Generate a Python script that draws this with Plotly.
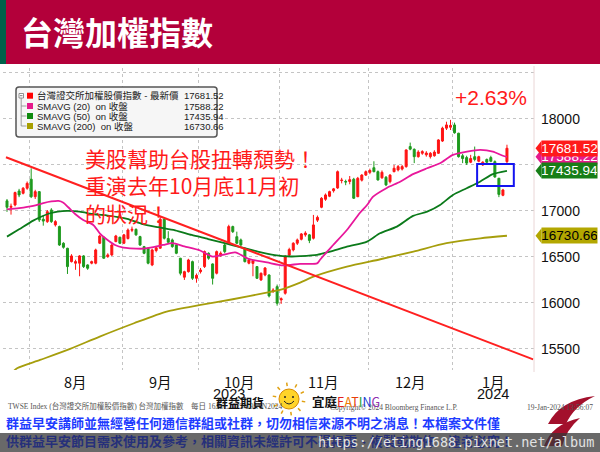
import math
import pandas as pd
import plotly.graph_objects as go

# ---------------- data ----------------
opens = [17110,17040,17065,17217,17192,17247,17345,17155,17210,16910,16884,17011,16848,16830,16649,16594,16449,16432,16432,16511,
         16413,16432,16432,16649,16714,16504,16522,16667,16714,16649,16700,16790,16800,16721,16612,16594,16413,16570,16595,16910,
         16700,16685,16630,16486,16280,16340,16449,16268,16340,16395,16540,16424,16323,16520,16630,16649,16830,16720,16685,16594,
         16432,16430,16395,16250,16304,16304,16123,16177,16033,16105,16520,16576,16649,16692,16740,16740,16703,16900,17040,17127,
         17160,17220,17250,17330,17320,17320,17345,17155,17335,17390,17420,17470,17427,17360,17366,17318,17427,17446,17455,17482,
         17700,17670,17590,17627,17610,17590,17600,17627,17760,17900,17910,17935,17845,17600,17580,17530,17590,17540,17500,17560,
         17580,17536,17355,17170,17536]
highs = [17130,17080,17210,17240,17260,17320,17464,17230,17215,16950,17010,17030,16900,16840,16660,16600,16530,16470,16520,16520,
         16420,16460,16590,16740,16720,16540,16640,16740,16720,16750,16810,16830,16810,16730,16620,16600,16590,16620,16938,16920,
         16780,16700,16640,16490,16350,16480,16460,16320,16380,16570,16550,16430,16570,16560,16650,16850,16840,16775,16700,16600,
         16480,16470,16400,16330,16390,16310,16160,16200,16060,16520,16600,16660,16700,16760,16780,16750,16957,16950,17150,17190,
         17220,17250,17440,17360,17340,17380,17360,17370,17400,17440,17460,17540,17440,17440,17380,17400,17500,17500,17500,17670,
         17743,17680,17660,17660,17650,17640,17660,17780,17916,17970,17990,17960,17850,17620,17600,17610,17700,17600,17540,17570,
         17600,17550,17360,17240,17720]
lows = [16990,16960,17050,17150,17180,17230,17140,17130,16880,16840,16870,16870,16830,16620,16590,16315,16440,16360,16290,16380,
        16360,16420,16420,16640,16480,16490,16510,16660,16640,16640,16690,16770,16730,16620,16530,16420,16400,16550,16590,16690,
        16650,16600,16530,16300,16250,16330,16250,16220,16320,16380,16470,16200,16310,16500,16540,16640,16760,16640,16620,16440,
        16420,16290,16260,16240,16290,16060,16110,15970,15990,16090,16500,16560,16630,16680,16720,16650,16690,16880,17030,17110,
        17150,17200,17240,17300,17280,17290,17130,17150,17320,17380,17400,17420,17330,17350,17270,17300,17420,17430,17440,17470,
        17660,17520,17580,17610,17590,17570,17590,17620,17750,17880,17880,17840,17580,17520,17500,17520,17540,17530,17490,17520,
        17530,17360,17150,17160,17500]
closes = [17040,17050,17200,17174,17247,17300,17155,17210,16902,16890,16992,16884,16884,16630,16605,16395,16511,16449,16511,16395,
          16377,16449,16576,16728,16486,16522,16630,16728,16649,16740,16793,16800,16740,16630,16540,16432,16576,16600,16910,16703,
          16660,16612,16540,16323,16340,16467,16268,16300,16358,16558,16486,16268,16558,16540,16558,16830,16775,16649,16630,16449,
          16467,16460,16268,16323,16380,16076,16141,15997,16045,16504,16580,16649,16685,16750,16760,16680,16848,16930,17138,17174,
          17210,17240,17427,17335,17315,17340,17138,17355,17390,17427,17440,17427,17337,17420,17283,17390,17464,17482,17482,17663,
          17672,17590,17640,17645,17630,17627,17640,17772,17900,17935,17930,17850,17590,17570,17520,17570,17560,17590,17530,17530,
          17540,17370,17180,17228,17681.52]

# moving averages (index position, value)
sma20_x = [0,3,6.5,9,11,12.8,14,15.2,16.9,18.9,21.4,23,24.7,26.8,28.9,30.5,33.8,38.7,41,44,47.9,51,53.5,56.6,59.9,64.5,68.5,
           72.7,76.9,77.6,79.4,80.9,84.3,87.5,89.3,90.8,94.2,97.5,100.7,104.2,107.4,110.6,114.1,117.4,120.5,123,124]
sma20_y = [17018,17030,17054,17085,17103,17109,17090,17040,16967,16902,16848,16757,16692,16630,16601,16594,16590,16630,16650,
           16615,16570,16504,16522,16550,16480,16440,16408,16425,16430,16467,16558,16630,16793,16978,17065,17155,17250,17318,
           17400,17464,17518,17609,17645,17663,17645,17600,17588.22]
sma50_x = [0,3,6.5,10.7,14.9,18,21.6,25,29.8,33.4,37.5,41.7,45.8,49.9,54,58.1,62.2,66.4,70.5,72.7,76.9,80.1,84.3,89.3,92.5,
           96.7,100.7,104.2,107.4,110.6,114,117.3,120.5,124]
sma50_y = [16721,16800,16895,16975,17000,16992,16964,16950,16915,16860,16823,16790,16739,16695,16649,16605,16558,16520,16505,
           16508,16522,16558,16612,16667,16757,16830,16946,16992,17065,17174,17247,17318,17400,17435.94]
sma200_x = [1,2.5,8.2,15,23,31.5,39.6,48,56,64.4,67.7,72.7,76,84.3,92.6,100.8,109,117.4,124]
sma200_y = [15230,15290,15380,15489,15634,15779,15906,15978,16040,16112,16141,16221,16286,16395,16475,16558,16649,16703,16730.66]

trend_x = [-0.25, 130.5]
trend_y = [17584, 15386]
box_x = [116.6, 125.7]
box_y = [17272, 17511]

legend_names = ["台灣證交所加權股價指數 - 最新價", "SMAVG (20)\u00a0\u00a0on 收盤",
                "SMAVG (50)\u00a0\u00a0on 收盤", "SMAVG (200)\u00a0\u00a0on 收盤"]
legend_values = [17681.52, 17588.22, 17435.94, 16730.66]
y_ticks = [15500, 16000, 16500, 17000, 17500, 18000, 18500]
y_ticktext = ["15500", "16000", "16500", "17000", "", "18000", ""]
month_names = ["8月", "9月", "10月", "11月", "12月", "1月"]

holidays = pd.to_datetime(["2023-09-04", "2023-09-29", "2023-10-09", "2023-10-10", "2024-01-01"])
dates = pd.bdate_range("2023-07-24", "2024-01-19")
dates = dates[~dates.isin(holidays)]
n = len(closes)
assert len(dates) == n
xi = list(range(n))

# ---------------- geometry ----------------
FW, FH = 600, 452
ML, MR, MT, MB = 3, 66, 68, 82
PW, PH = FW - ML - MR, FH - MT - MB
XMIN = -0.99
XMAX = XMIN + PW / 4.032
YMIN, YMAX = 15271, 18554
DV = (YMAX - YMIN) / PH  # value per pixel


def px(x):
    return (x - ML) / PW


def py(y):
    return (FH - MB - y) / PH


# month boundaries
first_idx = []
for k in range(1, n):
    if dates[k].month != dates[k - 1].month:
        first_idx.append(k)
grid_x = [k - 0.4 for k in first_idx]
label_x = [(grid_x[j] + (grid_x[j + 1] if j + 1 < len(grid_x) else XMAX)) / 2 for j in range(len(grid_x))]

RED = "#FF1414"
GREEN = "#1E9A1E"
MAG = "#E8179B"
DGREEN = "#0B7A1A"
OLIVE = "#A69E0C"

fig = go.Figure()
fig.add_trace(go.Candlestick(
    x=xi, open=opens, high=highs, low=lows, close=closes,
    increasing=dict(line=dict(color=RED, width=1), fillcolor=RED),
    decreasing=dict(line=dict(color=GREEN, width=1), fillcolor=GREEN),
    whiskerwidth=0, showlegend=False, hoverinfo="skip"))
for xs, ys, c in [(sma200_x, sma200_y, OLIVE), (sma50_x, sma50_y, DGREEN), (sma20_x, sma20_y, MAG)]:
    fig.add_trace(go.Scatter(x=xs, y=ys, mode="lines", line=dict(color=c, width=1.8, shape="spline", smoothing=0.7),
                             showlegend=False, hoverinfo="skip"))
fig.add_trace(go.Scatter(x=trend_x, y=trend_y, mode="lines", line=dict(color="#FF2020", width=2),
                         showlegend=False, hoverinfo="skip"))

shapes = []
anns = []
# header
shapes.append(dict(type="rect", xref="paper", yref="paper", x0=px(0), x1=px(600), y0=py(64), y1=py(0),
                   fillcolor="#B3003A", line=dict(width=0), layer="below"))
shapes.append(dict(type="rect", xref="paper", yref="paper", x0=px(0), x1=px(6), y0=py(64), y1=py(0),
                   fillcolor="#00614A", line=dict(width=0), layer="below"))
anns.append(dict(text="<b>台灣加權指數</b>", xref="paper", yref="paper", x=px(19), y=py(31), xanchor="left",
                 yanchor="middle", showarrow=False, font=dict(family="Noto Sans CJK TC", size=32, color="white")))
# right border
shapes.append(dict(type="line", xref="paper", yref="paper", x0=px(534), x1=px(534), y0=py(372), y1=py(66),
                   line=dict(color="#EAD6D6", width=1)))
# blue box
shapes.append(dict(type="rect", xref="x", yref="y", x0=box_x[0], x1=box_x[1], y0=box_y[0], y1=box_y[1],
                   line=dict(color="#1414F0", width=2)))

# legend box
lx0, lx1, ly0, ly1, rr = 16, 217, 87, 137, 3
shapes.append(dict(type="path", xref="paper", yref="paper",
                   path=(f"M {px(lx0+rr)},{py(ly0)} L {px(lx1-rr)},{py(ly0)} Q {px(lx1)},{py(ly0)} {px(lx1)},{py(ly0+rr)} "
                         f"L {px(lx1)},{py(ly1-rr)} Q {px(lx1)},{py(ly1)} {px(lx1-rr)},{py(ly1)} "
                         f"L {px(lx0+rr)},{py(ly1)} Q {px(lx0)},{py(ly1)} {px(lx0)},{py(ly1-rr)} "
                         f"L {px(lx0)},{py(ly0+rr)} Q {px(lx0)},{py(ly0)} {px(lx0+rr)},{py(ly0)} Z"),
                   fillcolor="#F6F6F6", line=dict(color="#555555", width=1.5)))
rows_y = [95.7, 106, 116, 126]
sq_colors = ["#FF0000", "#E6198C", "#0E8A0E", "#A89F00"]
# tree glyph
shapes.append(dict(type="rect", xref="paper", yref="paper", x0=px(19), x1=px(23.5), y0=py(98), y1=py(93.5),
                   line=dict(color="#777", width=0.8), fillcolor="white"))
shapes.append(dict(type="line", xref="paper", yref="paper", x0=px(20), x1=px(22.5), y0=py(95.7), y1=py(95.7),
                   line=dict(color="#555", width=0.8)))
shapes.append(dict(type="line", xref="paper", yref="paper", x0=px(21.2), x1=px(21.2), y0=py(98), y1=py(126),
                   line=dict(color="#888", width=0.8)))
for j, yy in enumerate(rows_y):
    if j > 0:
        shapes.append(dict(type="line", xref="paper", yref="paper", x0=px(21.2), x1=px(26.5), y0=py(yy), y1=py(yy),
                           line=dict(color="#888", width=0.8)))
    shapes.append(dict(type="rect", xref="paper", yref="paper", x0=px(27), x1=px(33), y0=py(yy + 3), y1=py(yy - 3),
                       fillcolor=sq_colors[j], line=dict(width=0)))
    anns.append(dict(text=legend_names[j], xref="paper", yref="paper", x=px(35), y=py(yy), xanchor="left",
                     yanchor="middle", showarrow=False,
                     font=dict(family="Liberation Sans, Noto Sans CJK TC", size=9.5, color="#222")))
    anns.append(dict(text=f"{legend_values[j]:.2f}", xref="paper", yref="paper", x=px(182), y=py(yy), xanchor="left",
                     yanchor="middle", showarrow=False, font=dict(family="Liberation Sans", size=9.5, color="#222")))

# price tags on the right axis
tag_specs = [(1, "#E6198C", "white"), (2, "#177E17", "white"), (0, "#FF1A1A", "white"), (3, "#B3A700", "black")]
for j, bg, fc in tag_specs:
    v = legend_values[j]
    d = 7.5 * DV
    shapes.append(dict(type="path", xref="paper", yref="y",
                       path=f"M {px(541.5)},{v + d} L {px(535.5)},{v} L {px(541.5)},{v - d} Z",
                       fillcolor=bg, line=dict(width=0)))
    anns.append(dict(text=f"{v:.2f}", xref="paper", yref="y", x=px(541), y=v, xanchor="left", yanchor="middle",
                     width=55, height=15, bgcolor=bg, borderpad=0, showarrow=False, align="center",
                     font=dict(family="Liberation Sans", size=13.5, color=fc)))

# chart texts
anns.append(dict(text="+2.63%", xref="paper", yref="paper", x=px(491), y=py(97), xanchor="center", yanchor="middle",
                 showarrow=False, font=dict(family="Liberation Sans", size=21, color="#FF1A1A")))
anns.append(dict(text="美股幫助台股扭轉頹勢！<br>重演去年10月底11月初<br>的狀況！", xref="paper", yref="paper",
                 x=px(83), y=py(141), xanchor="left", yanchor="top", align="left", showarrow=False,
                 font=dict(family="Noto Sans CJK TC", size=21, color="#FF1A1A")))

# month labels
for j, name in enumerate(month_names):
    anns.append(dict(text=name, xref="x", yref="paper", x=label_x[j], y=py(381), xanchor="center", yanchor="middle",
                     showarrow=False, font=dict(family="Noto Sans CJK TC", size=14.5, color="#111")))
anns.append(dict(text="2023", xref="x", yref="paper", x=label_x[2] - 2.5, y=py(394), xanchor="center",
                 yanchor="middle", showarrow=False, font=dict(family="Liberation Sans", size=14.5, color="#111")))
anns.append(dict(text="2024", xref="x", yref="paper", x=label_x[5], y=py(394), xanchor="center",
                 yanchor="middle", showarrow=False, font=dict(family="Liberation Sans", size=14.5, color="#111")))

# footer small texts
small = dict(family="Liberation Serif, Noto Sans CJK TC", size=7.5, color="#555")
anns.append(dict(text="TWSE Index (台灣證交所加權股價指數) 台灣加權指數\u00a0\u00a0\u00a0\u00a0每日 16JUL2023-19JAN2024",
                 xref="paper", yref="paper", x=px(6), y=py(406), xanchor="left", yanchor="middle", showarrow=False,
                 font=small))
anns.append(dict(text="Copyright© 2024 Bloomberg Finance L.P.", xref="paper", yref="paper", x=px(328), y=py(407),
                 xanchor="left", yanchor="middle", showarrow=False, font=small))
anns.append(dict(text="19-Jan-2024 13:56:07", xref="paper", yref="paper", x=px(595), y=py(407), xanchor="right",
                 yanchor="middle", showarrow=False, font=small))

# logo: 群益期貨 + sun + 宜庭EATING
anns.append(dict(text="<b>群益期貨</b>", xref="paper", yref="paper", x=px(214), y=py(402), xanchor="left",
                 yanchor="middle", showarrow=False, font=dict(family="Noto Sans CJK TC", size=12, color="#111")))
cx, cy, r = 289, 399, 10
for a in range(0, 360, 36):
    t = math.radians(a + 10)
    shapes.append(dict(type="line", xref="paper", yref="paper",
                       x0=px(cx + 13 * math.cos(t)), y0=py(cy + 13 * math.sin(t)),
                       x1=px(cx + 16.5 * math.cos(t)), y1=py(cy + 16.5 * math.sin(t)),
                       line=dict(color="#E0A010", width=1.5)))
shapes.append(dict(type="circle", xref="paper", yref="paper", x0=px(cx - r), x1=px(cx + r), y0=py(cy + r),
                   y1=py(cy - r), fillcolor="#FFD42A", line=dict(color="#D98A00", width=1)))
for ex in (cx - 4, cx + 4):
    shapes.append(dict(type="circle", xref="paper", yref="paper", x0=px(ex - 1), x1=px(ex + 1), y0=py(cy - 1),
                       y1=py(cy - 3), fillcolor="#222", line=dict(width=0)))
shapes.append(dict(type="path", xref="paper", yref="paper",
                   path=f"M {px(cx-5)},{py(cy+2)} Q {px(cx)},{py(cy+8)} {px(cx+5)},{py(cy+2)}",
                   line=dict(color="#222", width=1)))
eat = ("<b>宜庭</b><span style='color:#E02020'>E</span><span style='color:#F07800'>A</span>"
       "<span style='color:#E8400A'>T</span><span style='color:#20A030'>I</span>"
       "<span style='color:#2040D0'>N</span><span style='color:#9030B0'>G</span>")
anns.append(dict(text=eat, xref="paper", yref="paper", x=px(310), y=py(401), xanchor="left", yanchor="middle",
                 showarrow=False, font=dict(family="Noto Sans CJK TC", size=12.5, color="#111")))

# capital logo bottom right
shapes.append(dict(type="path", xref="paper", yref="paper",
                   path=(f"M {px(548)},{py(424)} Q {px(560)},{py(400)} {px(595)},{py(396)} "
                         f"Q {px(574)},{py(406)} {px(566)},{py(424)} Z"),
                   fillcolor="#A3102C", line=dict(width=0)))
shapes.append(dict(type="path", xref="paper", yref="paper",
                   path=(f"M {px(544)},{py(446)} Q {px(552)},{py(424)} {px(580)},{py(418)} "
                         f"Q {px(566)},{py(430)} {px(562)},{py(446)} Z"),
                   fillcolor="#A3102C", line=dict(width=0)))

# disclaimer lines
anns.append(dict(text="<b>群益早安講師並無經營任何通信群組或社群，切勿相信來源不明之消息！本檔案文件僅</b>",
                 xref="paper", yref="paper", x=px(4), y=py(422), xanchor="left", yanchor="middle", showarrow=False,
                 font=dict(family="Noto Sans CJK TC", size=13, color="#1E3CFF")))
shapes.append(dict(type="rect", xref="paper", yref="paper", x0=px(0), x1=px(600), y0=py(452), y1=py(433),
                   fillcolor="rgba(55,55,55,0.75)", line=dict(width=0)))
anns.append(dict(text="<b>供群益早安節目需求使用及參考，相關資訊未經許可不得揭露、複製或散佈，違者必究！</b>",
                 xref="paper", yref="paper", x=px(4), y=py(440), xanchor="left", yanchor="middle", showarrow=False,
                 font=dict(family="Noto Sans CJK TC", size=13, color="#26307A")))
anns.append(dict(text="https://eting1688.pixnet.net/album", xref="paper", yref="paper", x=px(596), y=py(442),
                 xanchor="right", yanchor="middle", showarrow=False,
                 font=dict(family="DejaVu Sans Mono", size=13.5, color="#E2E2E2")))

fig.update_layout(
    width=FW, height=FH, margin=dict(l=ML, r=MR, t=MT, b=MB),
    paper_bgcolor="white", plot_bgcolor="white", showlegend=False,
    shapes=shapes, annotations=anns,
    xaxis=dict(range=[XMIN, XMAX], tickvals=grid_x, showticklabels=False, ticks="", showgrid=True,
               gridcolor="#C4C4C4", griddash="dot", gridwidth=1, zeroline=False, showline=False,
               rangeslider=dict(visible=False), fixedrange=True),
    yaxis=dict(range=[YMIN, YMAX], side="right", tickvals=y_ticks, ticktext=y_ticktext, ticks="",
               ticklabelstandoff=6, showgrid=True, gridcolor="#C4C4C4", griddash="dot", gridwidth=1,
               zeroline=False, showline=False, fixedrange=True,
               tickfont=dict(family="Liberation Sans", size=14, color="#111")),
)
fig.write_html("out.html")
